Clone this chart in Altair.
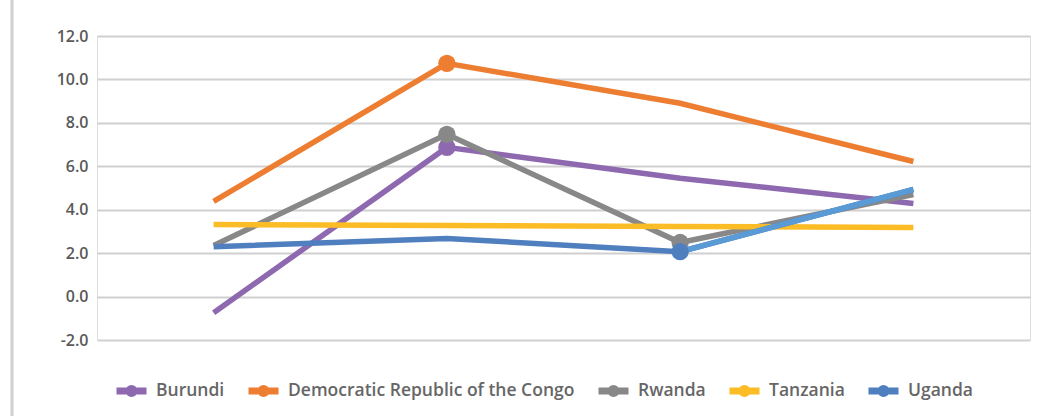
import altair as alt
import pandas as pd

periods = ["P1", "P2", "P3", "P4"]
countries = ["Burundi", "Democratic Republic of the Congo", "Rwanda", "Tanzania", "Uganda"]
burundi = [-0.74, 6.87, 5.45, 4.29]
drc = [4.38, 10.74, 8.90, 6.22]
rwanda = [2.35, 7.47, 2.49, 4.70]
tanzania = [3.32, 3.27, 3.23, 3.18]
uganda = [2.30, 2.67, 2.07, 4.93]
# which points carry a marker in the original
markers = {
    "Burundi": [0, 1, 0, 0],
    "Democratic Republic of the Congo": [0, 1, 0, 0],
    "Rwanda": [0, 1, 1, 0],
    "Tanzania": [0, 0, 0, 0],
    "Uganda": [0, 0, 1, 0],
}
colors = ["#8E69B0", "#ED7D31", "#888888", "#FBBC25", "#4F7FBF"]
uganda_last_color = "#5B9BD5"

series = [burundi, drc, rwanda, tanzania, uganda]
rows = []
for c, vals in zip(countries, series):
    for i, (p, v) in enumerate(zip(periods, vals)):
        rows.append({"country": c, "period": p, "value": v, "idx": i, "marker": markers[c][i]})
df = pd.DataFrame(rows)

FONT = "Open Sans"

x = alt.X("period:N", sort=periods, axis=None, scale=alt.Scale(type="point", padding=0.5))
y = alt.Y("value:Q", scale=alt.Scale(domain=[-2, 12], nice=False),
          axis=alt.Axis(values=[-2, 0, 2, 4, 6, 8, 10, 12], title=None,
                        labelExpr="replace(format(datum.value, '.1f'), '\u2212', '-')",
                        domain=False, ticks=False, labelPadding=9, labelFont=FONT,
                        labelFontSize=16, labelFontWeight=600, labelColor="#595959",
                        gridColor="#D0D0D0", gridWidth=2))
legend_path = "M-1,0L1,0M-0.17,0A0.17,0.17,0,1,0,0.17,0A0.17,0.17,0,1,0,-0.17,0"
color = alt.Color("country:N", sort=countries,
                  scale=alt.Scale(domain=countries, range=colors),
                  legend=alt.Legend(title=None, orient="none", direction="horizontal",
                                    legendX=16, legendY=336, symbolType=legend_path,
                                    symbolSize=900, symbolStrokeWidth=7,
                                    labelFont=FONT, labelFontSize=17.5, labelFontWeight=600,
                                    labelColor="#666666", columnPadding=9, labelOffset=6,
                                    labelLimit=400))

base = alt.Chart(df)
lines = base.mark_line(strokeWidth=5.5).encode(x=x, y=y, color=color, order="idx:Q")
ug_last = base.transform_filter(
    (alt.datum.country == "Uganda") & (alt.datum.idx >= 2)
).mark_line(strokeWidth=5.5, color=uganda_last_color).encode(x=x, y=y, order="idx:Q")
pts = base.transform_filter(alt.datum.marker == 1).mark_circle(size=300, opacity=1).encode(
    x=x, y=y, color=color)
border = alt.Chart(pd.DataFrame({"a": [0]})).mark_rule(color="#D0D0D0", strokeWidth=3).encode(
    x=alt.value(-85), y=alt.value(-40), y2=alt.value(390))

chart = alt.layer(border, lines, ug_last, pts).properties(
    width=933, height=304,
    autosize=alt.AutoSizeParams(type="none"),
    padding={"left": 97, "top": 36, "right": 31, "bottom": 76},
).configure_view(stroke=None).configure(background="white")

chart.save("out.html", embed_options={"renderer": "svg", "actions": False})
